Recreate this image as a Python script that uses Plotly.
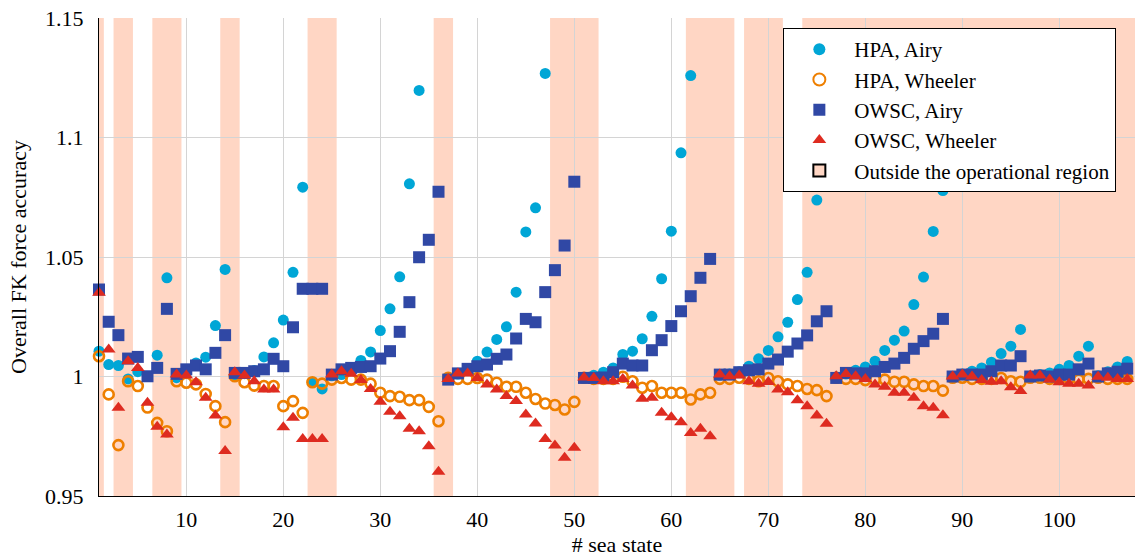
import plotly.graph_objects as go

sea_state = list(range(1, 108))

hpa_airy = [
    1.0106, 1.005, 1.0046, 0.999, 1.002, 1.000, 1.0089, 1.0413, 0.9995, 1.0015,
    1.0057, 1.0081, 1.0213, 1.0448, 1.0005, 1.0012, 1.0025, 1.0082, 1.0141, 1.0236,
    1.0436, 1.0792, 0.9976, 0.9948, 1.0003, 1.0008, 1.0025, 1.0067, 1.0103, 1.0192,
    1.0283, 1.0417, 1.0806, 1.1197, None, None, 0.9994, 1.001, 1.003, 1.0064,
    1.0102, 1.0155, 1.0208, 1.0353, 1.0605, 1.0706, 1.1268, None, None, None,
    0.9996, 1.0005, 1.0018, 1.0036, 1.0092, 1.0106, 1.0158, 1.0252, 1.0409, 1.0608,
    1.0936, 1.1259, None, None, 1.0005, 1.001, 1.002, 1.0043, 1.0074, 1.0109,
    1.0166, 1.0227, 1.0322, 1.0436, 1.0738, None, 0.9998, 1.001, 1.0026, 1.004,
    1.0064, 1.0109, 1.0152, 1.019, 1.0301, 1.0416, 1.0607, 1.0778, 1.0, 1.001,
    1.0022, 1.0036, 1.006, 1.0096, 1.0127, 1.0197, 1.0, 1.0008, 1.0015, 1.003,
    1.0046, 1.0085, 1.0127, 1.0003, 1.002, 1.004, 1.0063,
]

hpa_wheeler = [
    1.0085, 0.9925, 0.9713, 0.998, 0.996, 0.987, 0.9806, 0.9771, 0.998, 0.9974,
    0.9967, 0.9927, 0.9876, 0.9809, 1.0001, 0.9976, 0.9962, 0.996, 0.996, 0.9876,
    0.9897, 0.9848, 0.9976, 0.997, 0.9987, 0.9994, 0.9987, 0.9987, 0.997, 0.9932,
    0.9918, 0.9915, 0.9901, 0.9901, 0.9873, 0.9813, 0.9995, 0.999, 0.999, 0.9994,
    0.9987, 0.9974, 0.9957, 0.9957, 0.9932, 0.9906, 0.9887, 0.9881, 0.9862, 0.9894,
    0.9995, 0.999, 0.999, 0.999, 0.9999, 0.998, 0.9953, 0.996, 0.9932, 0.9932,
    0.9932, 0.9904, 0.9925, 0.9932, 0.999, 0.999, 0.9995, 0.999, 0.998, 0.9994,
    0.998, 0.9967, 0.996, 0.9948, 0.9943, 0.9918, 0.9995, 0.999, 0.999, 0.9985,
    0.9987, 0.9987, 0.9978, 0.9978, 0.9967, 0.996, 0.996, 0.9941, 0.9995, 0.9995,
    0.999, 0.999, 0.999, 0.9994, 0.998, 0.9978, 0.9995, 0.9995, 0.999, 0.999,
    0.999, 0.9987, 0.999, 0.9995, 0.999, 0.999, 0.999,
]

owsc_airy = [
    1.0364, 1.0229, 1.0173, 1.0075, 1.0082, 1.0001, 1.0036, 1.0283, 1.0011, 1.003,
    1.0046, 1.003, 1.0099, 1.0173, 1.0015, 1.0015, 1.0022, 1.003, 1.0074, 1.0043,
    1.0206, 1.0367, 1.0367, 1.0367, 1.0008, 1.003, 1.0036, 1.004, 1.0043, 1.0075,
    1.0106, 1.0187, 1.0311, 1.0499, 1.0572, 1.0773, 0.9987, 1.0013, 1.0032, 1.0043,
    1.005, 1.0074, 1.0092, 1.0159, 1.0241, 1.0227, 1.0353, 1.0445, 1.0548, 1.0815,
    0.9994, 0.9994, 0.9996, 1.0018, 1.0054, 1.0046, 1.0046, 1.011, 1.0152, 1.0211,
    1.0273, 1.0336, 1.0413, 1.0492, 1.0008, 1.0008, 1.0018, 1.0026, 1.003, 1.0054,
    1.0071, 1.0104, 1.0138, 1.0172, 1.0231, 1.0273, 0.9994, 1.0015, 1.0013, 1.0013,
    1.0022, 1.004, 1.0054, 1.0078, 1.0116, 1.0148, 1.0179, 1.0241, 1.0, 1.0008,
    1.0008, 1.0008, 1.0022, 1.0046, 1.0046, 1.0085, 1.0, 1.0004, 1.0, 1.0008,
    1.0008, 1.003, 1.0054, 1.0, 1.0013, 1.002, 1.0033,
]

owsc_wheeler = [
    1.035, 1.0113, 0.9869, 1.0064, 1.0036, 0.989, 0.979, 0.9757, 1.0008, 1.0004,
    0.9976, 0.9911, 0.9837, 0.9688, 1.0018, 1.0004, 0.998, 0.9946, 0.9946, 0.9788,
    0.9827, 0.9739, 0.9739, 0.9739, 1.0008, 1.0022, 1.0011, 0.9985, 0.9948, 0.9894,
    0.9852, 0.9834, 0.9781, 0.9771, 0.9708, 0.9601, 0.999, 1.0013, 1.0013, 0.9994,
    0.9967, 0.9946, 0.9918, 0.9897, 0.9841, 0.9803, 0.9739, 0.9711, 0.966, 0.9702,
    0.9996, 0.9994, 0.998, 0.998, 0.999, 0.9962, 0.9907, 0.9911, 0.9848, 0.983,
    0.9809, 0.9764, 0.9781, 0.975, 1.0008, 1.0001, 1.0004, 0.998, 0.997, 0.9977,
    0.9946, 0.9934, 0.9901, 0.9876, 0.9837, 0.9802, 1.0001, 1.001, 1.0001, 0.999,
    0.9967, 0.9957, 0.9932, 0.9932, 0.9911, 0.9876, 0.9869, 0.9838, 1.0, 1.0008,
    1.0, 0.9985, 0.9978, 0.998, 0.9955, 0.9939, 1.0004, 1.0004, 0.9987, 0.9976,
    0.997, 0.997, 0.9962, 0.9999, 0.9995, 0.999, 0.999,
]

# regions outside the operational region (sea-state ranges)
band_start = [0.5, 2.5, 6.5, 13.5, 22.5, 35.5, 47.5, 61.5, 67.5, 73.5]
band_end = [1.5, 4.5, 9.5, 15.5, 25.5, 37.5, 52.5, 66.5, 71.5, 108.5]

x_ticks = [10, 20, 30, 40, 50, 60, 70, 80, 90, 100]
y_ticks = [0.95, 1.0, 1.05, 1.1, 1.15]
y_tick_text = ["0.95", "1", "1.05", "1.1", "1.15"]

C_CYAN = "#00A6D6"
C_ORANGE = "#EE7F00"
C_BLUE = "#3048A5"
C_RED = "#DE2B20"
C_BAND = "#FFD6C4"
FONT = "Liberation Serif"
FS = 22

fig = go.Figure()

for s, e in zip(band_start, band_end):
    fig.add_shape(type="rect", xref="x", yref="paper", x0=s, x1=e, y0=0, y1=1,
                  fillcolor=C_BAND, line=dict(width=0), layer="below")

fig.add_trace(go.Scatter(x=sea_state, y=hpa_airy, mode="markers", name="HPA, Airy",
                         cliponaxis=False,
                         marker=dict(symbol="circle", size=11, color=C_CYAN, line=dict(width=0))))
fig.add_trace(go.Scatter(x=sea_state, y=hpa_wheeler, mode="markers", name="HPA, Wheeler",
                         cliponaxis=False,
                         marker=dict(symbol="circle-open", size=10, color=C_ORANGE, line=dict(width=2.6))))
fig.add_trace(go.Scatter(x=sea_state, y=owsc_airy, mode="markers", name="OWSC, Airy",
                         cliponaxis=False,
                         marker=dict(symbol="square", size=12, color=C_BLUE, line=dict(width=0))))
fig.add_trace(go.Scatter(x=sea_state, y=owsc_wheeler, mode="markers", name="OWSC, Wheeler",
                         cliponaxis=False,
                         marker=dict(symbol="triangle-up", size=12, color=C_RED, line=dict(width=0))))
fig.add_trace(go.Bar(x=[None], y=[None], name="Outside the operational region",
                     marker=dict(color=C_BAND, line=dict(color="black", width=1))))

fig.update_layout(
    width=1135, height=558,
    margin=dict(l=99, r=0, t=18, b=62),
    plot_bgcolor="white", paper_bgcolor="white",
    font=dict(family=FONT, size=FS, color="black"),
    showlegend=True,
    legend=dict(x=0.982, y=0.979, xanchor="right", yanchor="top",
                bordercolor="black", borderwidth=1, bgcolor="white",
                font=dict(family=FONT, size=21), tracegroupgap=0,
                itemsizing="constant", itemwidth=60),
    xaxis=dict(range=[1, 107.8], tickvals=x_ticks, showgrid=True,
               gridcolor="#D4D4D4", gridwidth=1, zeroline=False,
               showline=True, linecolor="black", linewidth=1, mirror=False,
               ticks="", tickfont=dict(family=FONT, size=FS), ticklabelstandoff=4,
               title=dict(text="# sea state", font=dict(family=FONT, size=FS), standoff=1)),
    yaxis=dict(range=[0.95, 1.15], tickvals=y_ticks, ticktext=y_tick_text,
               showgrid=True, gridcolor="#D4D4D4", gridwidth=1, zeroline=False,
               showline=True, linecolor="black", linewidth=1,
               ticks="", tickfont=dict(family=FONT, size=FS), ticklabelstandoff=10,
               title=dict(text="Overall FK force accuracy", font=dict(family=FONT, size=FS), standoff=12)),
)

fig.write_html("out.html")
